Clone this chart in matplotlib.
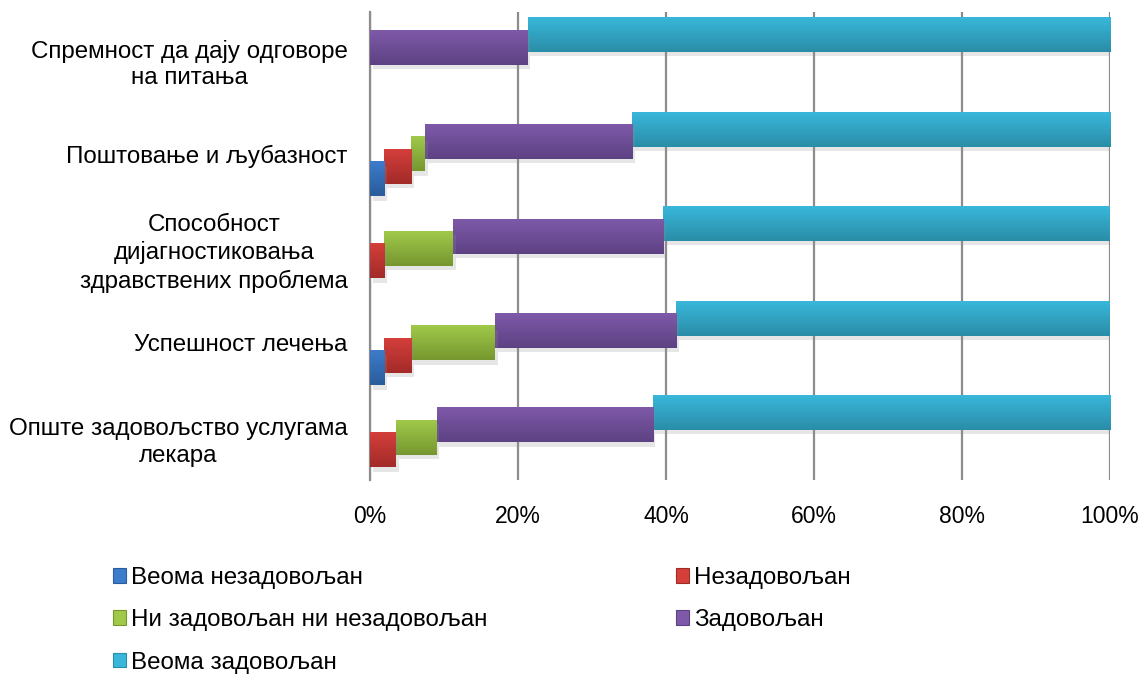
import numpy as np
import matplotlib
matplotlib.use("Agg")
import matplotlib.pyplot as plt
import matplotlib.patheffects as pe
from matplotlib.colors import LinearSegmentedColormap
from matplotlib.patches import Rectangle

plt.rcParams['font.family'] = ['Liberation Sans', 'DejaVu Sans']

categories = ["Спремност да дају одговоре\nна питања",
              "Поштовање и љубазност",
              "Способност\nдијагностиковања\nздравствених проблема",
              "Успешност лечења",
              "Опште задовољство услугама\nлекара"]
series_names = ["Веома незадовољан", "Незадовољан", "Ни задовољан ни незадовољан",
                "Задовољан", "Веома задовољан"]
very_unsat = [0.0, 1.9, 0.0, 1.9, 0.0]
unsat = [0.0, 3.7, 1.9, 3.7, 3.5]
neutral = [0.0, 1.8, 9.3, 11.3, 5.5]
sat = [21.3, 28.0, 28.4, 24.5, 29.2]
very_sat = [78.7, 64.6, 60.4, 58.6, 61.8]

# (top, bottom) colours for the vertical gradient
colors = [("#3d7ccb", "#2a5c9a"),
          ("#d43f3b", "#a22b28"),
          ("#a0c94a", "#76972f"),
          ("#7e59a9", "#5d4283"),
          ("#39b7da", "#2a8da8")]

values = [very_unsat, unsat, neutral, sat, very_sat]
pos = np.arange(len(categories))
offset = 0.132
height = 0.37

fig = plt.figure(figsize=(11.43, 6.75), dpi=100)
ax = fig.add_axes([370 / 1143, 1 - 480 / 675, 740 / 1143, 468 / 675])

left = np.zeros(len(categories))
lefts = []
for vals in values:
    lefts.append(left.copy())
    left = left + np.array(vals)

grad = np.linspace(0, 1, 64).reshape(-1, 1)
handles = []
for k in range(4, -1, -1):
    cmap = LinearSegmentedColormap.from_list("c%d" % k, colors[k])
    z = 10 - 2 * k
    bars = ax.barh(pos + (2 - k) * offset, values[k], height=height, left=lefts[k],
                   color=colors[k][1], zorder=z)
    for r in bars:
        if r.get_width() <= 0:
            r.set_visible(False)
            continue
        r.set_path_effects([pe.SimplePatchShadow(offset=(2, -3), shadow_rgbFace="#909090", alpha=0.22),
                            pe.Normal()])
        x0, y0, w, h = r.get_x(), r.get_y(), r.get_width(), r.get_height()
        ax.imshow(grad, cmap=cmap, aspect="auto", extent=(x0, x0 + w, y0 + h, y0),
                  origin="upper", zorder=z + 0.5, interpolation="bilinear")

for k in range(5):
    handles.append(Rectangle((0, 0), 1, 1, facecolor=colors[k][0], edgecolor=colors[k][1], linewidth=0.8))

ax.set_xlim(0, 100)
ax.set_ylim(4.45, -0.503)
ax.set_xticks(range(0, 101, 20))
ax.set_xticklabels(["%d%%" % v for v in range(0, 101, 20)], fontsize=16.5)
ax.set_yticks(pos)
ax.set_yticklabels(categories, fontsize=17.4)
for t in ax.get_yticklabels():
    t.set_multialignment("center")
    t.set_linespacing(1.28)
ax.tick_params(axis="both", length=0)
ax.tick_params(axis="x", pad=18)
ax.tick_params(axis="y", pad=16)
ax.grid(axis="x", color="#8c8c8c", linewidth=1.6)
ax.set_axisbelow(True)
for s in ["top", "right", "bottom"]:
    ax.spines[s].set_visible(False)
ax.spines["left"].set_color("#8c8c8c")
ax.spines["left"].set_linewidth(1.6)

order = [0, 2, 4, 1, 3]
fig.legend([handles[i] for i in order], [series_names[i] for i in order],
           loc="upper left", bbox_to_anchor=(113 / 1143, 1 - 567 / 675), ncol=2,
           frameon=False, fontsize=17.4, handlelength=0.55, handleheight=0.55,
           handletextpad=0.2, columnspacing=7.8, labelspacing=0.84,
           borderpad=0, borderaxespad=0)

fig.savefig("out.png", dpi=100)
